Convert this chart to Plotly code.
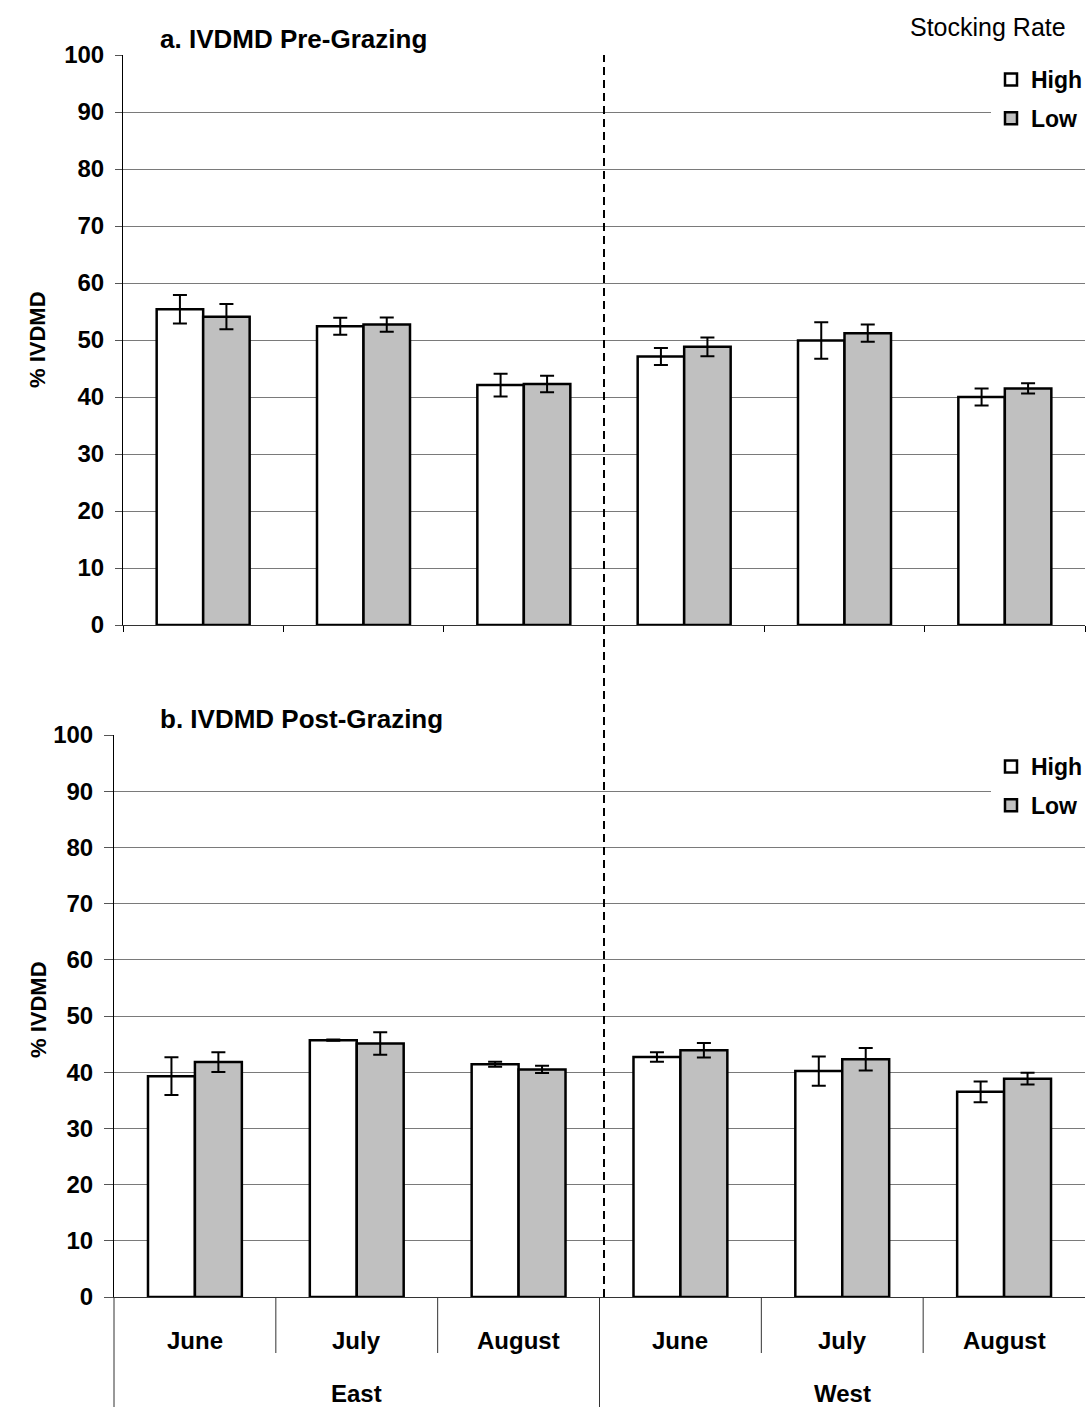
import plotly.graph_objects as go

# ---------------- data ----------------
regions = ["East", "East", "East", "West", "West", "West"]
months = ["June", "July", "August", "June", "July", "August"]
region_names = ["East", "West"]
series_names = ["High", "Low"]

pre_high = [55.4, 52.4, 42.1, 47.1, 49.9, 40.0]
pre_high_err = [2.5, 1.5, 2.0, 1.5, 3.2, 1.5]
pre_low = [54.1, 52.7, 42.3, 48.8, 51.2, 41.5]
pre_low_err = [2.2, 1.25, 1.45, 1.65, 1.5, 0.9]

post_high = [39.3, 45.7, 41.4, 42.7, 40.2, 36.5]
post_high_err = [3.35, 0.1, 0.45, 0.85, 2.6, 1.85]
post_low = [41.8, 45.1, 40.5, 43.9, 42.3, 38.85]
post_low_err = [1.75, 2.0, 0.65, 1.3, 2.0, 1.05]

y_ticks = [0, 10, 20, 30, 40, 50, 60, 70, 80, 90, 100]

# ---------------- layout constants ----------------
W, H = 1088, 1407
FONT = "Liberation Sans, Arial, sans-serif"
colors = {"High": "#FFFFFF", "Low": "#C0C0C0"}

def px_x(p):
    return p / W

def px_y(p):
    return 1 - p / H

top_xdom = [px_x(123), px_x(1085)]
top_ydom = [px_y(625), px_y(55)]
bot_xdom = [px_x(114), px_x(1085)]
bot_ydom = [px_y(1297), px_y(735)]

fig = go.Figure()

xcat = [regions, months]

panels = [
    ("x", "y", "legend", pre_high, pre_high_err, pre_low, pre_low_err),
    ("x2", "y2", "legend2", post_high, post_high_err, post_low, post_low_err),
]
for xa, ya, lg, hv, he, lv, le in panels:
    for name, vals, errs in [("High", hv, he), ("Low", lv, le)]:
        fig.add_trace(go.Bar(
            x=xcat, y=vals, name=name, xaxis=xa, yaxis=ya, legend=lg,
            legendgroup=name + lg,
            marker=dict(color=colors[name], line=dict(color="black", width=2.5)),
            error_y=dict(type="data", array=errs, visible=True,
                         color="black", thickness=2, width=7),
        ))

def yaxis_common(ticklen):
    return dict(
        range=[0, 100], tickvals=y_ticks, showgrid=True, gridcolor="#7a7a7a",
        gridwidth=1, showline=True, linecolor="black", linewidth=1,
        ticks="outside", ticklen=ticklen, tickcolor="#555",
        ticklabelstandoff=6,
        tickfont=dict(family=FONT, size=24, color="black", weight="bold"),
        zeroline=False, fixedrange=True, automargin=False,
    )

legend_common = dict(
    x=1.0, xanchor="right", yanchor="top",
    bgcolor="white", borderwidth=0, tracegroupgap=6, itemwidth=30,
    font=dict(family=FONT, size=23, color="black", weight="bold"),
    itemclick=False, itemdoubleclick=False,
)

fig.update_layout(
    width=W, height=H,
    margin=dict(l=0, r=0, t=0, b=0),
    paper_bgcolor="white", plot_bgcolor="white",
    barmode="group", bargap=0.42, bargroupgap=0.0,
    showlegend=True,
    xaxis=dict(
        type="multicategory", domain=top_xdom, anchor="y",
        showticklabels=False, ticks="outside", tickson="boundaries",
        ticklen=6, tickcolor="black", showline=True, linecolor="#333",
        linewidth=1, showdividers=False, automargin=False,
    ),
    yaxis=dict(domain=top_ydom, anchor="x", **yaxis_common(7)),
    xaxis2=dict(
        type="multicategory", domain=bot_xdom, anchor="y2",
        showticklabels=False, ticks="", showline=True, linecolor="#333",
        linewidth=1, showdividers=False, automargin=False,
    ),
    yaxis2=dict(domain=bot_ydom, anchor="x2", **yaxis_common(9)),
    legend=dict(y=px_y(58), **legend_common),
    legend2=dict(y=px_y(745), **legend_common),
)

# ---- category labels and dividers for the bottom axis (from axis domain) ----
n = len(months)
d0, d1 = bot_xdom
def frac(k):
    return d0 + (d1 - d0) * k / n

lab_font = dict(family=FONT, size=24, color="black", weight="bold")
for i, m in enumerate(months):
    fig.add_annotation(xref="paper", yref="paper", x=frac(i + 0.5), y=px_y(1340),
                       text=m, showarrow=False, xanchor="center", yanchor="middle",
                       font=lab_font)
for k in range(1, n):
    if k % 3 != 0:
        fig.add_shape(type="line", xref="paper", yref="paper",
                      x0=frac(k), x1=frac(k), y0=px_y(1297), y1=px_y(1353),
                      line=dict(color="#333", width=1))
for j, r in enumerate(region_names):
    fig.add_annotation(xref="paper", yref="paper", x=frac(3 * j + 1.5), y=px_y(1393),
                       text=r, showarrow=False, xanchor="center", yanchor="middle",
                       font=lab_font)
    fig.add_shape(type="line", xref="paper", yref="paper",
                  x0=frac(3 * j), x1=frac(3 * j), y0=px_y(1297), y1=0,
                  line=dict(color="#333", width=1))

# dashed East/West divider, positioned at the middle of the axis domain
mid_x = top_xdom[0] + (top_xdom[1] - top_xdom[0]) * 0.5
fig.add_shape(type="line", xref="paper", yref="paper",
              x0=mid_x, x1=mid_x, y0=bot_ydom[0], y1=top_ydom[1],
              line=dict(color="black", width=2, dash="8px,5px"), layer="above")

annos = [
    dict(text="a. IVDMD Pre-Grazing", x=px_x(158), y=px_y(56), xanchor="left",
         yanchor="bottom", font=dict(family=FONT, size=26, color="black", weight="bold")),
    dict(text="b. IVDMD Post-Grazing", x=px_x(158), y=px_y(736), xanchor="left",
         yanchor="bottom", font=dict(family=FONT, size=26, color="black", weight="bold")),
    dict(text="Stocking Rate", x=px_x(988), y=px_y(27), xanchor="center",
         yanchor="middle", font=dict(family=FONT, size=25, color="black")),
    dict(text="% IVDMD", x=px_x(38), y=px_y(340), xanchor="center", yanchor="middle",
         textangle=-90, font=dict(family=FONT, size=22, color="black", weight="bold")),
    dict(text="% IVDMD", x=px_x(38), y=px_y(1010), xanchor="center", yanchor="middle",
         textangle=-90, font=dict(family=FONT, size=22, color="black", weight="bold")),
]
for a in annos:
    fig.add_annotation(xref="paper", yref="paper", showarrow=False, **a)

fig.write_html("out.html")
